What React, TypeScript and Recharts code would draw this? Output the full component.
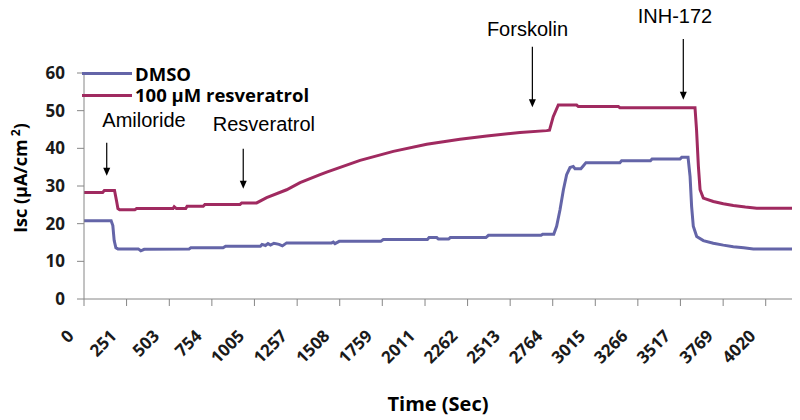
import { LineChart, Line, XAxis, YAxis, ReferenceLine, ReferenceDot, Label } from 'recharts'

// DMSO trace (time in sec, Isc in µA/cm²)
const dmsoTime = [
    0, 160, 170, 178, 188, 200, 320, 335, 355, 620, 630, 820, 835, 1040, 1050, 1070, 1085, 1100,
    1120, 1150, 1170, 1195, 1460, 1470, 1480, 1505, 1750, 1765, 2025, 2035, 2080, 2090, 2150, 2160,
    2370, 2385, 2695, 2705, 2770, 2787, 2807, 2827, 2846, 2866, 2885, 2895, 2930, 2945, 2960, 3160,
    3170, 3340, 3350, 3515, 3525, 3562, 3574, 3583, 3593, 3613, 3652, 3711, 3770, 3829, 3890, 3947, 4175,
]
const dmsoIsc = [
    20.8, 20.8, 19.5, 15.5, 13.6, 13.3, 13.3, 12.8, 13.2, 13.3, 13.6, 13.6, 14.0, 14.0, 14.5, 14.2, 14.7, 14.3,
    14.8, 14.5, 14.1, 14.9, 14.9, 15.1, 14.7, 15.3, 15.3, 15.8, 15.8, 16.3, 16.3, 15.9, 15.9, 16.3,
    16.3, 16.9, 16.9, 17.2, 17.2, 19.3, 23.7, 29.0, 33.0, 34.9, 35.2, 34.6, 34.6, 35.4, 36.2, 36.2,
    36.7, 36.7, 37.2, 37.2, 37.6, 37.6, 32.5, 24.6, 19.3, 16.6, 15.5, 14.8, 14.3, 13.9, 13.6, 13.3, 13.3,
]

// 100 µM resveratrol trace
const resvTime = [
    0, 110, 120, 180, 192, 200, 210, 300, 310, 525, 532, 545, 600, 608, 703, 713, 920, 930, 1018,
    1077, 1195, 1274, 1392, 1431, 1628, 1824, 2021, 2217, 2375, 2571, 2728, 2745, 2767, 2797, 2905, 2915,
    3151, 3160, 3603, 3612, 3623, 3633, 3652, 3711, 3770, 3829, 3900, 3967, 4175,
]
const resvIsc = [
    28.3, 28.3, 28.8, 28.8, 26.0, 24.0, 23.7, 23.7, 24.0, 24.0, 24.5, 24.0, 24.0, 24.6, 24.6, 25.1, 25.1, 25.5, 25.5,
    26.9, 29.0, 30.9, 33.0, 33.7, 36.8, 39.2, 41.1, 42.4, 43.3, 44.2, 44.7, 44.8, 48.4, 51.5, 51.5, 51.1,
    51.1, 50.8, 50.8, 45.0, 35.2, 29.0, 26.8, 25.9, 25.3, 24.8, 24.4, 24.1, 24.1,
]

const xTicks = [0, 251, 503, 754, 1005, 1257, 1508, 1759, 2011, 2262, 2513, 2764, 3015, 3266, 3517, 3769, 4020]
const yTicks = [0, 10, 20, 30, 40, 50, 60]

// drug additions: arrow at time, from arrowTop down to arrowBottom; text centred at (textT, textV)
const drugNames = ['Amiloride', 'Resveratrol', 'Forskolin', 'INH-172']
const drugTime = [134, 939, 2644, 3534]
const arrowTop = [41.5, 39.9, 67.0, 69.0]
const arrowBottom = [32.7, 29.3, 50.9, 52.9]
const textT = [354, 1061, 2615, 3485]
const textV = [45.6, 44.5, 69.8, 73.4]

const seriesNames = ['DMSO', '100 µM resveratrol']
const seriesColors = ['#6465A8', '#A02A60']

const dmsoData = dmsoTime.map((t, i) => ({ t, v: dmsoIsc[i] }))
const resvData = resvTime.map((t, i) => ({ t, v: resvIsc[i] }))

const AXIS = '#868686'
const BOLD = '"Open Sans", sans-serif'

const XTick = (props: any) => {
    const { x, y, payload } = props
    const ax = x - 9
    return (
        <text
            x={ax}
            y={y}
            transform={`rotate(-45, ${ax}, ${y})`}
            textAnchor="end"
            fontFamily={BOLD}
            fontWeight={700}
            fontSize={17}
            fill="#1a1a1a"
        >
            {payload.value}
        </text>
    )
}

const Arrow = (props: any) => {
    const { x1, y1, x2, y2 } = props
    return (
        <g>
            <line x1={x1} y1={y1} x2={x2} y2={y2 - 6} stroke="#000" strokeWidth={1.2} />
            <polygon points={`${x2 - 3.5},${y2 - 8} ${x2 + 3.5},${y2 - 8} ${x2},${y2}`} fill="#000" />
        </g>
    )
}

// legend sits inside the plot, top-left, like the Excel original
const Legendbox = () => (
    <div
        style={{
            position: 'absolute',
            left: 82,
            top: 63,
            fontFamily: BOLD,
            fontWeight: 700,
            fontSize: 18.5,
            lineHeight: 1,
            color: '#000',
            pointerEvents: 'none',
        }}
    >
        {seriesNames.map((n, i) => (
            <div key={n} style={{ display: 'flex', alignItems: 'center', height: 21.7, whiteSpace: 'nowrap' }}>
                <span style={{ display: 'inline-block', width: 50, height: 3, background: seriesColors[i], marginRight: 3 }} />
                <span>{n}</span>
            </div>
        ))}
    </div>
)

export default function App() {
    return (
        <div style={{ position: 'absolute', left: 0, top: 0, width: 800, height: 420, background: '#fff' }}>
            <LineChart width={800} height={420} margin={{ top: 73, right: 8, bottom: 0, left: 0 }}>
                <XAxis
                    dataKey="t"
                    type="number"
                    domain={[0, 4175]}
                    ticks={xTicks}
                    interval={0}
                    allowDataOverflow
                    height={121}
                    stroke={AXIS}
                    tickSize={7}
                    tickMargin={31}
                    tick={<XTick />}
                >
                    <Label
                        content={(p: any) => {
                            const vb = p.viewBox
                            return (
                                <text
                                    x={vb.x + vb.width / 2}
                                    y={vb.y + 112}
                                    textAnchor="middle"
                                    fontFamily={BOLD}
                                    fontWeight={700}
                                    fontSize={20}
                                    fill="#000"
                                >
                                    Time (Sec)
                                </text>
                            )
                        }}
                    />
                </XAxis>
                <YAxis
                    type="number"
                    domain={[0, 60]}
                    ticks={yTicks}
                    width={84}
                    stroke={AXIS}
                    tickSize={7}
                    tickMargin={12}
                    tick={{ fontFamily: BOLD, fontWeight: 700, fontSize: 17, fill: '#1a1a1a' }}
                >
                    <Label
                        content={(p: any) => {
                            const vb = p.viewBox
                            const cx = vb.x + 26.5
                            const cy = vb.y + vb.height / 2 - 8
                            return (
                                <text
                                    x={0}
                                    y={0}
                                    transform={`translate(${cx}, ${cy}) rotate(-90)`}
                                    textAnchor="middle"
                                    fontFamily={BOLD}
                                    fontWeight={700}
                                    fontSize={18}
                                    fill="#000"
                                >
                                    Isc (µA/cm
                                    <tspan dy={-7} fontSize={12}> 2</tspan>
                                    <tspan dy={7}>)</tspan>
                                </text>
                            )
                        }}
                    />
                </YAxis>
                <Line
                    data={dmsoData}
                    dataKey="v"
                    name={seriesNames[0]}
                    stroke={seriesColors[0]}
                    strokeWidth={3}
                    dot={false}
                    type="linear"
                    isAnimationActive={false}
                />
                <Line
                    data={resvData}
                    dataKey="v"
                    name={seriesNames[1]}
                    stroke={seriesColors[1]}
                    strokeWidth={3}
                    dot={false}
                    type="linear"
                    isAnimationActive={false}
                />
                {drugNames.map((n, i) => (
                    <ReferenceLine
                        key={`arrow-${n}`}
                        segment={[{ x: drugTime[i], y: arrowTop[i] }, { x: drugTime[i], y: arrowBottom[i] }]}
                        ifOverflow="visible"
                        shape={<Arrow />}
                    />
                ))}
                {drugNames.map((n, i) => (
                    <ReferenceDot
                        key={`text-${n}`}
                        x={textT[i]}
                        y={textV[i]}
                        ifOverflow="visible"
                        shape={(p: any) => (
                            <text
                                x={p.cx}
                                y={p.cy}
                                textAnchor="middle"
                                fontFamily='"Liberation Sans", Arial, sans-serif'
                                fontSize={20}
                                fill="#000"
                            >
                                {n}
                            </text>
                        )}
                    />
                ))}
            </LineChart>
            <Legendbox />
        </div>
    )
}
